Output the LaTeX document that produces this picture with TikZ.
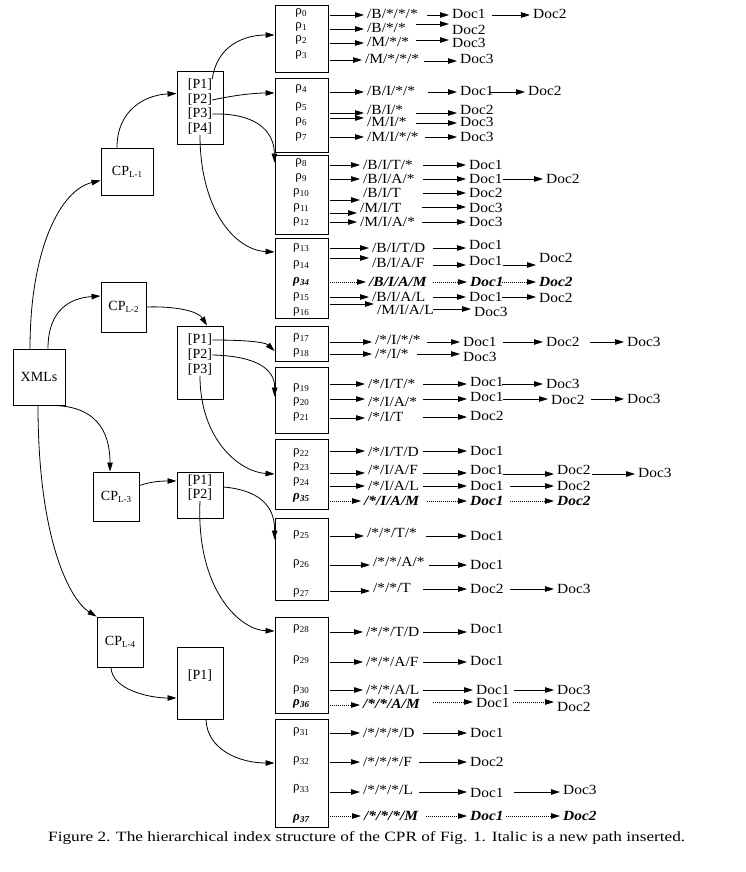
\documentclass[tikz,border=0pt]{standalone}
\usepackage{fontspec}
\usepackage{graphicx}
\setmainfont{Liberation Serif}
\newfontfamily\widefont[FakeStretch=1.1]{Liberation Serif}
\usetikzlibrary{arrows.meta,calc}
\newcommand\rr[1]{ρ\kern0.3pt\raisebox{-1.8pt}{\fontsize{9}{9}\selectfont #1}}
\newcommand\cpsub[1]{CP\raisebox{-2pt}{\fontsize{9}{9}\selectfont L-#1}}
\newcommand\bi[1]{{\bfseries\itshape #1}}
\newcommand\seg[7]{%
  \coordinate (#1s) at (#2,#3);
  \node[txt] (#1) at (#4,#5) {#6};
  \draw[#7] (#1s) -- (#1s -| #1.west);}
\tikzset{
  box/.style={draw, line width=0.9pt, inner sep=0pt},
  arr/.style={line width=0.8pt, -{Triangle[length=9pt,width=5.5pt]}},
  dar/.style={arr, dash pattern=on 1pt off 1pt},
  txt/.style={anchor=west, inner xsep=3pt, inner ysep=0pt, text height=9pt, text depth=1pt, font=\widefont\fontsize{14}{14}\selectfont},
  rl/.style={inner sep=0pt, font=\fontsize{13}{13}\selectfont},
  lbl/.style={inner sep=0pt, font=\fontsize{14}{14}\selectfont},
}
\begin{document}
\begin{tikzpicture}[x=1pt,y=-1pt]
\fill[white] (0,0) rectangle (746,872);
\useasboundingbox (0,0) rectangle (746,872);

% left boxes
\node[box, lbl, minimum width=52pt, minimum height=56pt] (xml) at (39,377) {XMLs};
\node[box, lbl, minimum width=52pt, minimum height=47pt] (cpl1) at (127,171.5) {\cpsub{1}};
\node[box, lbl, minimum width=45pt, minimum height=50pt] (cpl2) at (123.5,307) {\cpsub{2}};
\node[box, lbl, minimum width=46pt, minimum height=49pt] (cpl3) at (116,496.5) {\cpsub{3}};
\node[box, lbl, minimum width=46pt, minimum height=50pt] (cpl4) at (120,642) {\cpsub{4}};

\node[box, minimum width=46pt, minimum height=73pt] (q1) at (200,107.5) {};
\node[lbl] (q1p1) at (200,85) {[P1]};
\node[lbl] (q1p2) at (200,100) {[P2]};
\node[lbl] (q1p3) at (200,114) {[P3]};
\node[lbl] (q1p4) at (200,129) {[P4]};
\node[box, minimum width=46pt, minimum height=73pt] (q2) at (200,362.5) {};
\node[lbl] (q2p1) at (200,340) {[P1]};
\node[lbl] (q2p2) at (200,355) {[P2]};
\node[lbl] (q2p3) at (200,370) {[P3]};
\node[box, minimum width=46pt, minimum height=46pt] (q3) at (200,495) {};
\node[lbl] (q3p1) at (200,481) {[P1]};
\node[lbl] (q3p2) at (200,495) {[P2]};
\node[box, minimum width=46pt, minimum height=72pt] (q4) at (200,683) {};
\node[lbl] (q4p1) at (200,676) {[P1]};

% rho boxes
\node[box, minimum width=53pt, minimum height=67pt] (bA) at (301.5,38.5) {};
\node[box, minimum width=53pt, minimum height=74pt] (bB) at (301.5,115) {};
\node[box, minimum width=53pt, minimum height=79pt] (bC) at (301.5,194.5) {};
\node[box, minimum width=53pt, minimum height=80pt] (bD) at (301.5,278) {};
\node[box, minimum width=53pt, minimum height=35pt] (bE) at (301.5,343.5) {};
\node[box, minimum width=53pt, minimum height=66pt] (bF) at (301.5,400) {};
\node[box, minimum width=53pt, minimum height=70pt] (bG) at (301.5,474) {};
\node[box, minimum width=53pt, minimum height=82pt] (bH) at (301.5,559) {};
\node[box, minimum width=53pt, minimum height=96pt] (bI) at (301.5,665) {};
\node[box, minimum width=53pt, minimum height=108pt] (bJ) at (301.5,773) {};

% curved connectors
\draw[arr] ($(xml.north)+(-9,0)$) .. controls (30,250) and (60,190) .. ($(cpl1.west)+(0,9)$);
\draw[arr] ($(xml.north)+(9,0)$) .. controls (48,310) and (70,298) .. ($(cpl2.west)+(0,-11)$);
\draw[arr] ($(cpl1.north)+(-10,0)$) .. controls (117,110) and (145,95) .. ($(q1.west)+(0,-14)$);
\draw[arr] (cpl2.east) .. controls (175,306) and (198,311) .. ($(q2.north)+(7,0)$);
\draw[arr] (q1p1.north east) .. controls (217,45) and (245,35) .. ($(bA.west)+(0,-3.5)$);
\draw[arr] (q1p2.east) .. controls (235,95) and (255,93) .. ($(bB.west)+(0,-22)$);
\draw[arr] (q1p3.east) .. controls (255,113) and (274,130) .. ($(bC.north west)+(0,8)$);
\draw[arr] (q1p4.south) .. controls (200,210) and (235,250) .. ($(bD.west)+(0,-26)$);
\draw[arr] (q2p1.east) .. controls (245,340) and (265,342) .. ($(bE.west)+(0,7.5)$);
\draw[arr] (q2p2.east) .. controls (258,356) and (275,370) .. ($(bF.north west)+(0,30)$);
\draw[arr] (q2p3.south) .. controls (200,440) and (240,472) .. (bG.west);
\draw[arr] ($(xml.south)+(11,0)$) .. controls (95,405) and (110,430) .. ($(cpl3.north)+(-6,0)$);
\draw[arr] ($(xml.south)+(-1,0)$) .. controls (38,540) and (70,600) .. (cpl4.north west);
\draw[arr] ($(cpl3.east)+(0,-11)$) .. controls (152,481) and (165,481) .. ($(q3.west)+(0,-14)$);
\draw[arr] ($(q3.east)+(0,-8)$) .. controls (258,490) and (275,505) .. ($(bH.north west)+(0,22)$);
\draw[arr] (q3p2.south) .. controls (196,590) and (240,630) .. ($(bI.west)+(0,-34)$);
\draw[arr] ($(cpl4.south)+(-9,0)$) .. controls (112,690) and (150,698) .. ($(q4.west)+(0,15)$);
\draw[arr] ($(q4.south)+(6,0)$) .. controls (207,750) and (240,763) .. ($(bJ.west)+(0,-10)$);

% Box A rows
\node[rl] (r0) at (301,13) {\rr{0}};
\seg{r0a}{330}{15}{364}{15}{/B/*/*/*}{arr}
\seg{r0b}{427}{15}{449}{15}{Doc1}{arr}
\seg{r0c}{492}{15}{530}{15}{Doc2}{arr}
\node[rl] (r1) at (301,27) {\rr{1}};
\seg{r1a}{330}{29}{364}{29}{/B/*/*}{arr}
\seg{r1b}{416}{24}{449}{31}{Doc2}{arr}
\node[rl] (r2) at (301,40) {\rr{2}};
\seg{r2a}{330}{43}{364}{43}{/M/*/*}{arr}
\seg{r2b}{416}{40}{449}{44}{Doc3}{arr}
\node[rl] (r3) at (301,55) {\rr{3}};
\seg{r3a}{330}{60}{362}{60}{/M/*/*/*}{arr}
\seg{r3b}{424}{61}{457}{60}{Doc3}{arr}

% Box B rows
\node[rl] (r4) at (301,89) {\rr{4}};
\seg{r4a}{330}{92}{364}{92}{/B/I/*/*}{arr}
\seg{r4b}{428}{92}{457}{92}{Doc1}{arr}
\seg{r4c}{490}{92}{525}{92}{Doc2}{arr}
\node[rl] (r5) at (301,107) {\rr{5}};
\seg{r5a}{330}{113}{364}{110}{/B/I/*}{arr}
\seg{r5b}{416}{113}{457}{110}{Doc2}{arr}
\node[rl] (r6) at (301,122) {\rr{6}};
\seg{r6a}{330}{118}{364}{123}{/M/I/*}{arr}
\seg{r6b}{416}{123}{457}{123}{Doc3}{arr}
\node[rl] (r7) at (301,137) {\rr{7}};
\seg{r7a}{330}{137}{364}{137}{/M/I/*/*}{arr}
\seg{r7b}{425}{137}{457}{137}{Doc3}{arr}

% Box C rows
\node[rl] (r8) at (301,163) {\rr{8}};
\seg{r8a}{330}{165}{360}{165}{/B/I/T/*}{arr}
\seg{r8b}{423}{165}{466}{165}{Doc1}{arr}
\node[rl] (r9) at (301,178) {\rr{9}};
\seg{r9a}{330}{179}{360}{179}{/B/I/A/*}{arr}
\seg{r9b}{423}{179}{466}{179}{Doc1}{arr}
\seg{r9c}{503}{179}{543}{179}{Doc2}{arr}
\node[rl] (r10) at (301,193) {\rr{10}};
\seg{r10a}{330}{200}{360}{193}{/B/I/T}{arr}
\seg{r10b}{423}{193}{466}{193}{Doc2}{arr}
\node[rl] (r11) at (301,208) {\rr{11}};
\seg{r11a}{330}{213}{357}{208}{/M/I/T}{arr}
\seg{r11b}{422}{207}{466}{208}{Doc3}{arr}
\node[rl] (r12) at (301,222) {\rr{12}};
\seg{r12a}{330}{222}{357}{222}{/M/I/A/*}{arr}
\seg{r12b}{422}{222}{466}{222}{Doc3}{arr}

% Box D rows
\node[rl] (r13) at (301,248) {\rr{13}};
\seg{r13a}{330}{248}{369}{248}{/B/I/T/D}{arr}
\seg{r13b}{433}{248}{466}{245}{Doc1}{arr}
\node[rl] (r14) at (301,265) {\rr{14}};
\seg{r14a}{330}{258}{369}{263}{/B/I/A/F}{arr}
\seg{r14b}{433}{265}{466}{261}{Doc1}{arr}
\seg{r14c}{503}{265}{536}{258}{Doc2}{arr}
\node[rl] (r34) at (301,282) {\bi{\rr{34}}};
\seg{r34a}{330}{282}{366}{282}{\bi{/B/I/A/M}}{dar}
\seg{r34b}{433}{282}{467}{282}{\bi{Doc1}}{dar}
\seg{r34c}{502}{282}{536}{282}{\bi{Doc2}}{dar}
\node[rl] (r15) at (301,297) {\rr{15}};
\seg{r15a}{330}{297}{369}{297}{/B/I/A/L}{arr}
\seg{r15b}{433}{297}{466}{297}{Doc1}{arr}
\seg{r15c}{502}{297}{536}{298}{Doc2}{arr}
\node[rl] (r16) at (301,312) {\rr{16}};
\seg{r16a}{330}{304}{374}{310}{/M/I/A/L}{arr}
\seg{r16b}{433}{309}{471}{312}{Doc3}{arr}

% Box E rows
\node[rl] (r17) at (301,338) {\rr{17}};
\seg{r17a}{330}{342}{372}{340}{/*/I/*/*}{arr}
\seg{r17b}{427}{342}{460}{342}{Doc1}{arr}
\seg{r17c}{503}{342}{543}{342}{Doc2}{arr}
\seg{r17d}{590}{342}{624}{342}{Doc3}{arr}
\node[rl] (r18) at (301,353) {\rr{18}};
\seg{r18a}{330}{354}{372}{354}{/*/I/*}{arr}
\seg{r18b}{417}{354}{460}{357}{Doc3}{arr}

% Box F rows
\node[rl] (r19) at (301,388) {\rr{19}};
\seg{r19a}{330}{384}{365}{384}{/*/I/T/*}{arr}
\seg{r19b}{423}{384}{467}{382}{Doc1}{arr}
\seg{r19c}{502}{384}{543}{384}{Doc3}{arr}
\node[rl] (r20) at (301,402) {\rr{20}};
\seg{r20a}{330}{399}{365}{402}{/*/I/A/*}{arr}
\seg{r20b}{423}{399}{467}{397}{Doc1}{arr}
\seg{r20c}{503}{399}{548}{400}{Doc2}{arr}
\seg{r20d}{591}{399}{624}{399}{Doc3}{arr}
\node[rl] (r21) at (301,417) {\rr{21}};
\seg{r21a}{330}{418}{365}{417}{/*/I/T}{arr}
\seg{r21b}{423}{417}{467}{416}{Doc2}{arr}

% Box G rows
\node[rl] (r22) at (301,453) {\rr{22}};
\seg{r22a}{330}{451}{365}{452}{/*/I/T/D}{arr}
\seg{r22b}{423}{451}{467}{451}{Doc1}{arr}
\node[rl] (r23) at (301,467) {\rr{23}};
\seg{r23a}{330}{473}{365}{470}{/*/I/A/F}{arr}
\seg{r23b}{423}{473}{467}{470}{Doc1}{arr}
\seg{r23c}{503}{474}{554}{470}{Doc2}{arr}
\seg{r23d}{592}{474}{635}{473}{Doc3}{arr}
\node[rl] (r24) at (301,482) {\rr{24}};
\seg{r24a}{330}{486}{365}{486}{/*/I/A/L}{arr}
\seg{r24b}{423}{486}{467}{486}{Doc1}{arr}
\seg{r24c}{510}{486}{554}{486}{Doc2}{arr}
\node[rl] (r35) at (301,498) {\bi{\rr{35}}};
\seg{r35a}{330}{501}{361}{501}{\bi{/*/I/A/M}}{dar}
\seg{r35b}{427}{501}{467}{501}{\bi{Doc1}}{dar}
\seg{r35c}{510}{501}{554}{501}{\bi{Doc2}}{dar}

% Box H rows
\node[rl] (r25) at (301,535) {\rr{25}};
\seg{r25a}{330}{536}{364}{533}{/*/*/T/*}{arr}
\seg{r25b}{426}{536}{467}{536}{Doc1}{arr}
\node[rl] (r26) at (301,564) {\rr{26}};
\seg{r26a}{330}{565}{370}{562}{/*/*/A/*}{arr}
\seg{r26b}{429}{565}{467}{565}{Doc1}{arr}
\node[rl] (r27) at (301,593) {\rr{27}};
\seg{r27a}{330}{591}{370}{588}{/*/*/T}{arr}
\seg{r27b}{423}{589}{467}{589}{Doc2}{arr}
\seg{r27c}{510}{589}{554}{589}{Doc3}{arr}

% Box I rows
\node[rl] (r28) at (301,629) {\rr{28}};
\seg{r28a}{330}{632}{363}{632}{/*/*/T/D}{arr}
\seg{r28b}{423}{632}{467}{629}{Doc1}{arr}
\node[rl] (r29) at (301,660) {\rr{29}};
\seg{r29a}{330}{662}{363}{662}{/*/*/A/F}{arr}
\seg{r29b}{423}{662}{467}{661}{Doc1}{arr}
\node[rl] (r30) at (301,690) {\rr{30}};
\seg{r30a}{330}{690}{363}{690}{/*/*/A/L}{arr}
\seg{r30b}{423}{690}{473}{690}{Doc1}{arr}
\seg{r30c}{514}{690}{554}{690}{Doc3}{arr}
\node[rl] (r36) at (301,704) {\bi{\rr{36}}};
\seg{r36a}{330}{705}{360}{704}{\bi{/*/*/A/M}}{dar}
\seg{r36b}{433}{702}{473}{703}{Doc1}{dar}
\seg{r36c}{513}{702}{554}{707}{Doc2}{dar}

% Box J rows
\node[rl] (r31) at (301,732) {\rr{31}};
\seg{r31a}{330}{733}{360}{733}{/*/*/*/D}{arr}
\seg{r31b}{423}{733}{467}{733}{Doc1}{arr}
\node[rl] (r32) at (301,761) {\rr{32}};
\seg{r32a}{330}{762}{360}{762}{/*/*/*/F}{arr}
\seg{r32b}{419}{762}{467}{762}{Doc2}{arr}
\node[rl] (r33) at (301,789) {\rr{33}};
\seg{r33a}{330}{792}{360}{790}{/*/*/*/L}{arr}
\seg{r33b}{419}{792}{467}{793}{Doc1}{arr}
\seg{r33c}{514}{792}{560}{790}{Doc3}{arr}
\node[rl] (r37) at (301,819) {\bi{\rr{37}}};
\seg{r37a}{330}{816}{361}{816}{\bi{/*/*/*/M}}{dar}
\seg{r37b}{426}{816}{467}{816}{\bi{Doc1}}{dar}
\seg{r37c}{506}{816}{560}{816}{\bi{Doc2}}{dar}

% caption
\node[inner sep=0pt, anchor=base west] (cap) at (48,841) {\resizebox{637pt}{10pt}{\fontsize{13}{13}\selectfont Figure 2. The hierarchical index structure of the CPR of Fig. 1. Italic is a new path inserted.}};
\end{tikzpicture}
\end{document}
